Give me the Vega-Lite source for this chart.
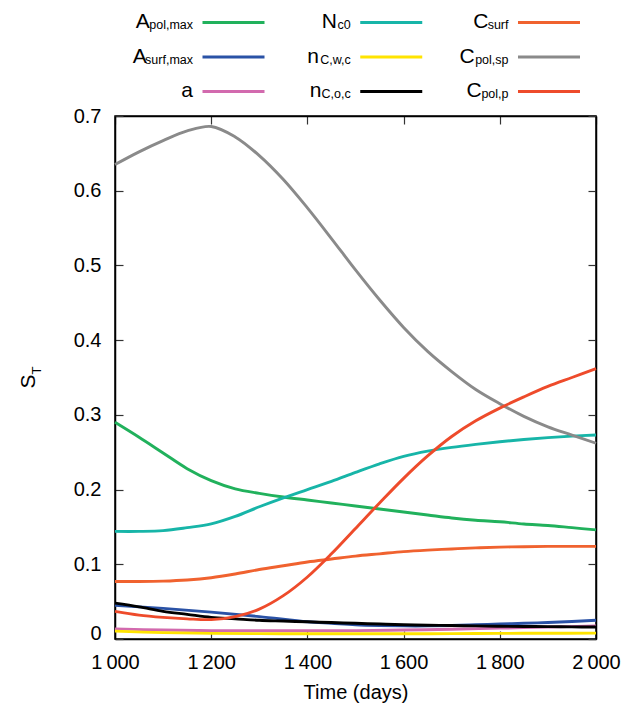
{
  "$schema": "https://vega.github.io/schema/vega-lite/v6.json",
  "background": "white",
  "padding": {"left": 16, "top": 5, "right": 5, "bottom": 5},
  "spacing": -4,
  "config": {
    "font": "Liberation Sans",
    "view": {"stroke": "black", "strokeWidth": 1.5},
    "axis": {
      "labelFont": "Liberation Sans", "titleFont": "Liberation Sans",
      "labelFontSize": 20, "titleFontSize": 20, "labelColor": "black", "titleColor": "black",
      "titleFontWeight": "normal", "domainColor": "black", "domainWidth": 1.5,
      "tickColor": "#333333", "tickSize": -8, "tickWidth": 1.2, "grid": false
    }
  },
  "datasets": {
    "legend": [
      {"s": "Apol,max", "main": "A", "sub": "pol,max", "col": 1, "row": 1},
      {"s": "Asurf,max", "main": "A", "sub": "surf,max", "col": 1, "row": 2},
      {"s": "a", "main": "a", "sub": "", "col": 1, "row": 3},
      {"s": "Nc0", "main": "N", "sub": "c0", "col": 2, "row": 1},
      {"s": "nC,w,c", "main": "n", "sub": "C,w,c", "col": 2, "row": 2},
      {"s": "nC,o,c", "main": "n", "sub": "C,o,c", "col": 2, "row": 3},
      {"s": "Csurf", "main": "C", "sub": "surf", "col": 3, "row": 1},
      {"s": "Cpol,sp", "main": "C", "sub": "pol,sp", "col": 3, "row": 2},
      {"s": "Cpol,p", "main": "C", "sub": "pol,p", "col": 3, "row": 3}
    ],
    "series": [
      {"s": "Apol,max", "t": 1000, "v": 0.290}, {"s": "Apol,max", "t": 1050, "v": 0.270}, {"s": "Apol,max", "t": 1100, "v": 0.249}, {"s": "Apol,max", "t": 1150, "v": 0.228}, {"s": "Apol,max", "t": 1200, "v": 0.212}, {"s": "Apol,max", "t": 1250, "v": 0.201}, {"s": "Apol,max", "t": 1300, "v": 0.195}, {"s": "Apol,max", "t": 1350, "v": 0.190}, {"s": "Apol,max", "t": 1400, "v": 0.186}, {"s": "Apol,max", "t": 1450, "v": 0.182}, {"s": "Apol,max", "t": 1500, "v": 0.178}, {"s": "Apol,max", "t": 1550, "v": 0.174}, {"s": "Apol,max", "t": 1600, "v": 0.170}, {"s": "Apol,max", "t": 1650, "v": 0.166}, {"s": "Apol,max", "t": 1700, "v": 0.162}, {"s": "Apol,max", "t": 1750, "v": 0.159}, {"s": "Apol,max", "t": 1800, "v": 0.157}, {"s": "Apol,max", "t": 1850, "v": 0.154}, {"s": "Apol,max", "t": 1900, "v": 0.152}, {"s": "Apol,max", "t": 1950, "v": 0.149}, {"s": "Apol,max", "t": 2000, "v": 0.146},
      {"s": "Nc0", "t": 1000, "v": 0.144}, {"s": "Nc0", "t": 1050, "v": 0.144}, {"s": "Nc0", "t": 1100, "v": 0.145}, {"s": "Nc0", "t": 1150, "v": 0.149}, {"s": "Nc0", "t": 1200, "v": 0.154}, {"s": "Nc0", "t": 1250, "v": 0.164}, {"s": "Nc0", "t": 1300, "v": 0.177}, {"s": "Nc0", "t": 1350, "v": 0.189}, {"s": "Nc0", "t": 1400, "v": 0.200}, {"s": "Nc0", "t": 1450, "v": 0.211}, {"s": "Nc0", "t": 1500, "v": 0.223}, {"s": "Nc0", "t": 1550, "v": 0.2345}, {"s": "Nc0", "t": 1600, "v": 0.2445}, {"s": "Nc0", "t": 1650, "v": 0.2515}, {"s": "Nc0", "t": 1700, "v": 0.2565}, {"s": "Nc0", "t": 1750, "v": 0.2605}, {"s": "Nc0", "t": 1800, "v": 0.264}, {"s": "Nc0", "t": 1850, "v": 0.267}, {"s": "Nc0", "t": 1900, "v": 0.2695}, {"s": "Nc0", "t": 1950, "v": 0.2715}, {"s": "Nc0", "t": 2000, "v": 0.273},
      {"s": "Csurf", "t": 1000, "v": 0.077}, {"s": "Csurf", "t": 1050, "v": 0.077}, {"s": "Csurf", "t": 1100, "v": 0.0775}, {"s": "Csurf", "t": 1150, "v": 0.079}, {"s": "Csurf", "t": 1200, "v": 0.082}, {"s": "Csurf", "t": 1250, "v": 0.087}, {"s": "Csurf", "t": 1300, "v": 0.093}, {"s": "Csurf", "t": 1350, "v": 0.098}, {"s": "Csurf", "t": 1400, "v": 0.103}, {"s": "Csurf", "t": 1450, "v": 0.107}, {"s": "Csurf", "t": 1500, "v": 0.111}, {"s": "Csurf", "t": 1550, "v": 0.114}, {"s": "Csurf", "t": 1600, "v": 0.117}, {"s": "Csurf", "t": 1650, "v": 0.119}, {"s": "Csurf", "t": 1700, "v": 0.1205}, {"s": "Csurf", "t": 1750, "v": 0.122}, {"s": "Csurf", "t": 1800, "v": 0.123}, {"s": "Csurf", "t": 1850, "v": 0.1235}, {"s": "Csurf", "t": 1900, "v": 0.124}, {"s": "Csurf", "t": 1950, "v": 0.124}, {"s": "Csurf", "t": 2000, "v": 0.124},
      {"s": "Cpol,sp", "t": 1000, "v": 0.635}, {"s": "Cpol,sp", "t": 1050, "v": 0.652}, {"s": "Cpol,sp", "t": 1100, "v": 0.667}, {"s": "Cpol,sp", "t": 1150, "v": 0.680}, {"s": "Cpol,sp", "t": 1200, "v": 0.686}, {"s": "Cpol,sp", "t": 1250, "v": 0.672}, {"s": "Cpol,sp", "t": 1300, "v": 0.647}, {"s": "Cpol,sp", "t": 1350, "v": 0.615}, {"s": "Cpol,sp", "t": 1400, "v": 0.577}, {"s": "Cpol,sp", "t": 1450, "v": 0.536}, {"s": "Cpol,sp", "t": 1500, "v": 0.494}, {"s": "Cpol,sp", "t": 1550, "v": 0.454}, {"s": "Cpol,sp", "t": 1600, "v": 0.417}, {"s": "Cpol,sp", "t": 1650, "v": 0.385}, {"s": "Cpol,sp", "t": 1700, "v": 0.358}, {"s": "Cpol,sp", "t": 1750, "v": 0.334}, {"s": "Cpol,sp", "t": 1800, "v": 0.315}, {"s": "Cpol,sp", "t": 1850, "v": 0.298}, {"s": "Cpol,sp", "t": 1900, "v": 0.284}, {"s": "Cpol,sp", "t": 1950, "v": 0.273}, {"s": "Cpol,sp", "t": 2000, "v": 0.262},
      {"s": "a", "t": 1000, "v": 0.0135}, {"s": "a", "t": 1100, "v": 0.012}, {"s": "a", "t": 1200, "v": 0.0112}, {"s": "a", "t": 1300, "v": 0.011}, {"s": "a", "t": 1400, "v": 0.011}, {"s": "a", "t": 1500, "v": 0.0112}, {"s": "a", "t": 1600, "v": 0.012}, {"s": "a", "t": 1700, "v": 0.013}, {"s": "a", "t": 1800, "v": 0.0145}, {"s": "a", "t": 1900, "v": 0.016}, {"s": "a", "t": 2000, "v": 0.0175},
      {"s": "nC,w,c", "t": 1000, "v": 0.0105}, {"s": "nC,w,c", "t": 1100, "v": 0.0085}, {"s": "nC,w,c", "t": 1200, "v": 0.0075}, {"s": "nC,w,c", "t": 1300, "v": 0.0072}, {"s": "nC,w,c", "t": 1400, "v": 0.007}, {"s": "nC,w,c", "t": 1500, "v": 0.007}, {"s": "nC,w,c", "t": 1600, "v": 0.007}, {"s": "nC,w,c", "t": 1700, "v": 0.0072}, {"s": "nC,w,c", "t": 1800, "v": 0.0075}, {"s": "nC,w,c", "t": 1900, "v": 0.0077}, {"s": "nC,w,c", "t": 2000, "v": 0.0078},
      {"s": "Asurf,max", "t": 1000, "v": 0.045}, {"s": "Asurf,max", "t": 1100, "v": 0.041}, {"s": "Asurf,max", "t": 1200, "v": 0.036}, {"s": "Asurf,max", "t": 1300, "v": 0.030}, {"s": "Asurf,max", "t": 1400, "v": 0.023}, {"s": "Asurf,max", "t": 1450, "v": 0.021}, {"s": "Asurf,max", "t": 1500, "v": 0.019}, {"s": "Asurf,max", "t": 1550, "v": 0.018}, {"s": "Asurf,max", "t": 1600, "v": 0.0175}, {"s": "Asurf,max", "t": 1650, "v": 0.0175}, {"s": "Asurf,max", "t": 1700, "v": 0.018}, {"s": "Asurf,max", "t": 1750, "v": 0.019}, {"s": "Asurf,max", "t": 1800, "v": 0.020}, {"s": "Asurf,max", "t": 1850, "v": 0.021}, {"s": "Asurf,max", "t": 1900, "v": 0.022}, {"s": "Asurf,max", "t": 1950, "v": 0.0235}, {"s": "Asurf,max", "t": 2000, "v": 0.025},
      {"s": "nC,o,c", "t": 1000, "v": 0.048}, {"s": "nC,o,c", "t": 1050, "v": 0.043}, {"s": "nC,o,c", "t": 1100, "v": 0.037}, {"s": "nC,o,c", "t": 1150, "v": 0.033}, {"s": "nC,o,c", "t": 1200, "v": 0.029}, {"s": "nC,o,c", "t": 1250, "v": 0.027}, {"s": "nC,o,c", "t": 1300, "v": 0.025}, {"s": "nC,o,c", "t": 1350, "v": 0.024}, {"s": "nC,o,c", "t": 1400, "v": 0.023}, {"s": "nC,o,c", "t": 1450, "v": 0.022}, {"s": "nC,o,c", "t": 1500, "v": 0.021}, {"s": "nC,o,c", "t": 1550, "v": 0.020}, {"s": "nC,o,c", "t": 1600, "v": 0.019}, {"s": "nC,o,c", "t": 1650, "v": 0.0185}, {"s": "nC,o,c", "t": 1700, "v": 0.018}, {"s": "nC,o,c", "t": 1750, "v": 0.0175}, {"s": "nC,o,c", "t": 1800, "v": 0.017}, {"s": "nC,o,c", "t": 1850, "v": 0.0168}, {"s": "nC,o,c", "t": 1900, "v": 0.0165}, {"s": "nC,o,c", "t": 1950, "v": 0.0162}, {"s": "nC,o,c", "t": 2000, "v": 0.016},
      {"s": "Cpol,p", "t": 1000, "v": 0.037}, {"s": "Cpol,p", "t": 1050, "v": 0.032}, {"s": "Cpol,p", "t": 1100, "v": 0.029}, {"s": "Cpol,p", "t": 1150, "v": 0.027}, {"s": "Cpol,p", "t": 1200, "v": 0.026}, {"s": "Cpol,p", "t": 1250, "v": 0.030}, {"s": "Cpol,p", "t": 1300, "v": 0.040}, {"s": "Cpol,p", "t": 1350, "v": 0.058}, {"s": "Cpol,p", "t": 1400, "v": 0.083}, {"s": "Cpol,p", "t": 1450, "v": 0.114}, {"s": "Cpol,p", "t": 1500, "v": 0.148}, {"s": "Cpol,p", "t": 1550, "v": 0.182}, {"s": "Cpol,p", "t": 1600, "v": 0.215}, {"s": "Cpol,p", "t": 1650, "v": 0.245}, {"s": "Cpol,p", "t": 1700, "v": 0.271}, {"s": "Cpol,p", "t": 1750, "v": 0.292}, {"s": "Cpol,p", "t": 1800, "v": 0.309}, {"s": "Cpol,p", "t": 1850, "v": 0.324}, {"s": "Cpol,p", "t": 1900, "v": 0.338}, {"s": "Cpol,p", "t": 1950, "v": 0.350}, {"s": "Cpol,p", "t": 2000, "v": 0.362}
    ]
  },
  "vconcat": [
    {
      "width": 481,
      "height": 104,
      "view": {"stroke": null},
      "data": {"name": "legend"},
      "encoding": {
        "x": {"field": "col", "type": "ordinal", "axis": null, "scale": {"type": "point", "padding": 0.5246, "align": 0.716}},
        "y": {"field": "row", "type": "ordinal", "axis": null, "scale": {"type": "point", "padding": 0.507}}
      },
      "layer": [
        {
          "mark": {"type": "tick", "orient": "horizontal", "size": 62, "thickness": 3, "opacity": 1},
          "encoding": {
            "color": {"field": "s", "type": "nominal", "legend": null,
              "scale": {"domain": ["Apol,max", "Asurf,max", "a", "Nc0", "nC,w,c", "nC,o,c", "Csurf", "Cpol,sp", "Cpol,p"],
                        "range": ["#21b15c", "#2a52a6", "#d26aae", "#17b5a8", "#ffe400", "#000000", "#f0622f", "#8a8a8a", "#ee4b2b"]}}
          }
        },
        {
          "mark": {"type": "text", "align": "right", "baseline": "alphabetic", "fontSize": 21, "color": "black", "dy": 5.5,
                   "dx": {"expr": "-40.5 - 12.5*(0.55*length(datum.sub) - 0.3*length(replace(datum.sub, regexp('[^,lrfi]','g'), '')) + 0.2*length(replace(datum.sub, regexp('[^mwC]','g'), '')))"}},
          "encoding": {"text": {"field": "main"}}
        },
        {
          "mark": {"type": "text", "align": "right", "baseline": "alphabetic", "fontSize": 12.5, "color": "black", "dx": -40.5, "dy": 6.5},
          "encoding": {"text": {"field": "sub"}}
        }
      ]
    },
    {
      "width": 481,
      "height": 523,
      "data": {"name": "series"},
      "layer": [
        {
          "mark": {"type": "line", "strokeWidth": 2.9, "interpolate": "catmull-rom"},
          "encoding": {
            "x": {"field": "t", "type": "quantitative", "scale": {"domain": [1000, 2000], "nice": false},
                  "axis": {"orient": "bottom", "values": [1000, 1200, 1400, 1600, 1800, 2000], "labelFlush": false, "labelPadding": 21,
                           "labelExpr": "replace(format(datum.value, ','), ',', '\u2009')", "title": "Time (days)", "titlePadding": 10}},
            "y": {"field": "v", "type": "quantitative", "scale": {"domain": [0, 0.7], "nice": false, "zero": false},
                  "axis": {"orient": "left", "values": [0, 0.1, 0.2, 0.3, 0.4, 0.5, 0.6, 0.7], "labelPadding": 22, "labelFlush": false,
                           "labelExpr": "datum.value == 0 ? '0' : format(datum.value, '.1f')",
                           "labelBaseline": {"condition": {"test": "datum.value == 0", "value": "alphabetic"}, "value": "middle"},
                           "title": "S", "titleFontSize": 21, "titleAngle": 270, "titleAlign": "center", "titleBaseline": "alphabetic", "titleX": -81, "titleY": 265}},
            "color": {"field": "s", "type": "nominal", "legend": null,
              "scale": {"domain": ["Apol,max", "Asurf,max", "a", "Nc0", "nC,w,c", "nC,o,c", "Csurf", "Cpol,sp", "Cpol,p"],
                        "range": ["#21b15c", "#2a52a6", "#d26aae", "#17b5a8", "#ffe400", "#000000", "#f0622f", "#8a8a8a", "#ee4b2b"]}}
          }
        },
        {
          "mark": {"type": "line", "strokeOpacity": 0},
          "encoding": {
            "x": {"field": "t", "type": "quantitative", "scale": {"domain": [1000, 2000], "nice": false},
                  "axis": {"orient": "top", "values": [1000, 1200, 1400, 1600, 1800, 2000], "labels": false, "title": null}},
            "y": {"field": "v", "type": "quantitative", "scale": {"domain": [0, 0.7], "nice": false, "zero": false},
                  "axis": {"orient": "right", "values": [0, 0.1, 0.2, 0.3, 0.4, 0.5, 0.6, 0.7], "labels": false,
                           "title": "T", "titleFontSize": 13, "titleAngle": 270, "titleAlign": "center", "titleBaseline": "alphabetic", "titleX": -555.7, "titleY": 254}},
            "detail": {"field": "s"}
          }
        }
      ],
      "resolve": {"axis": {"x": "independent", "y": "independent"}}
    }
  ]
}
